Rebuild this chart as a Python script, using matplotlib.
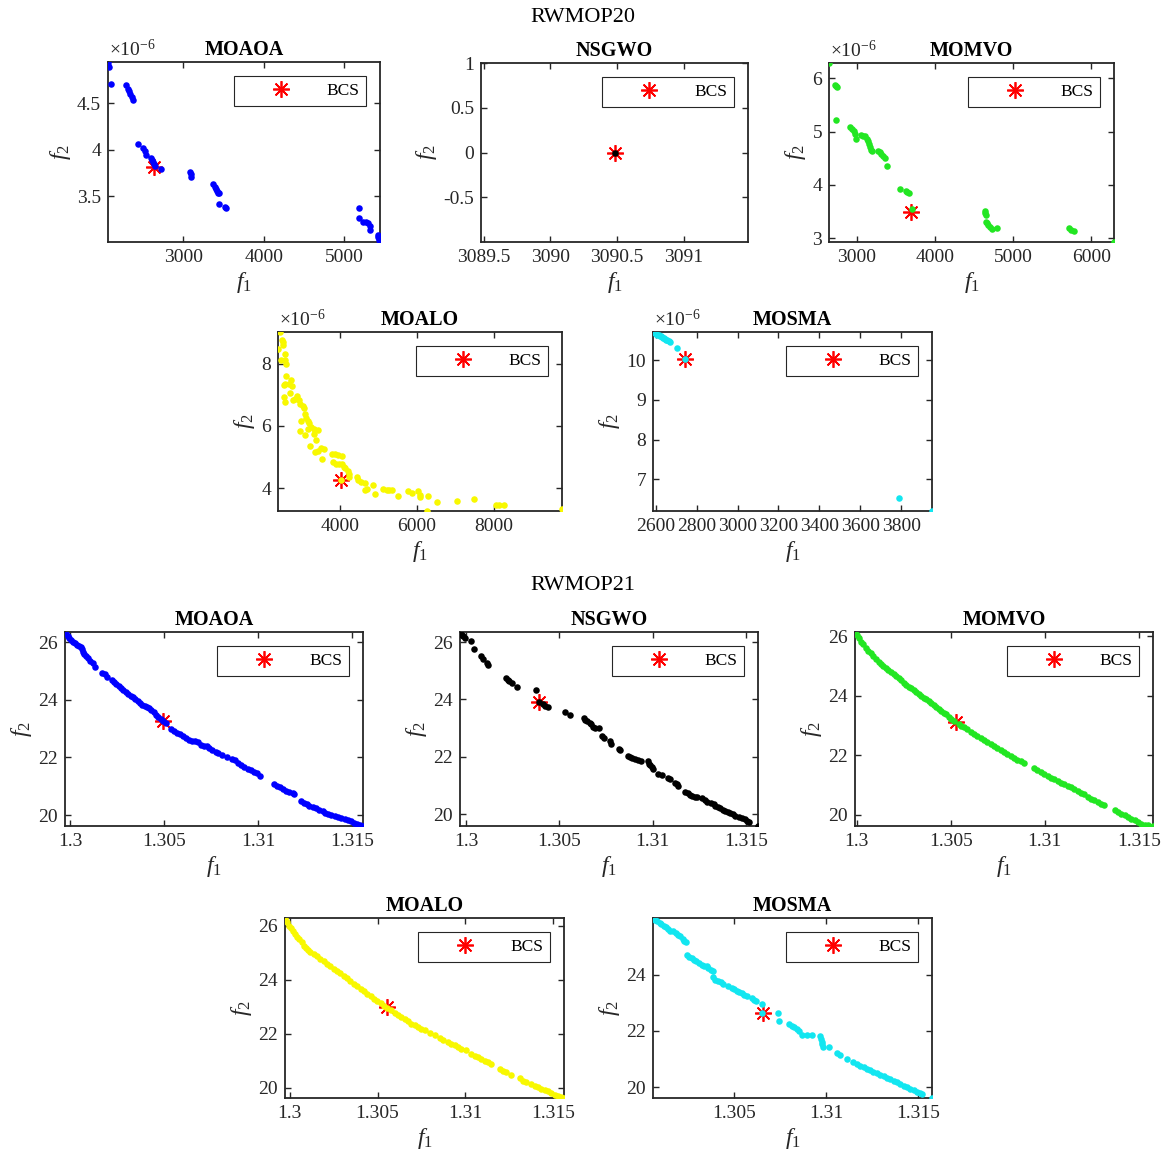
import numpy as np
import matplotlib
matplotlib.use("Agg")
import matplotlib.pyplot as plt
from matplotlib.ticker import FuncFormatter

plt.rcParams["font.family"] = "Liberation Serif"
plt.rcParams["mathtext.fontset"] = "custom"
plt.rcParams["mathtext.rm"] = "Liberation Serif"
plt.rcParams["mathtext.it"] = "Liberation Serif:italic"
plt.rcParams["mathtext.bf"] = "Liberation Serif:bold"

# ---------------- RWMOP20 (f2 given in units of 1e-6) ----------------
moaoa20_f1 = [2066, 2066, 2083, 2108, 2295, 2311, 2324, 2345, 2360, 2373,
              2440, 2502, 2523, 2544, 2606, 2615, 2625, 2635, 2647, 2730,
              3083, 3092, 3100, 3374, 3390, 3405, 3420, 3435, 3448, 3444,
              3515, 3527, 5179, 5187, 5237, 5270, 5300, 5324, 5324, 5415,
              5425, 5435, 5444]
moaoa20_f2 = [4.944, 4.915, 4.89, 4.71, 4.70, 4.656, 4.63, 4.60, 4.57, 4.536,
              4.06, 4.02, 3.99, 3.94, 3.915, 3.89, 3.87, 3.85, 3.825, 3.79,
              3.76, 3.735, 3.71, 3.63, 3.60, 3.575, 3.55, 3.535, 3.535, 3.41,
              3.387, 3.37, 3.37, 3.265, 3.22, 3.22, 3.21, 3.18, 3.13, 3.08,
              3.055, 3.03, 3.006]
moaoa20_bcs = (2643, 3.815)

nsgwo20_f1 = [3090.48]
nsgwo20_f2 = [0.0]
nsgwo20_bcs = (3090.48, 0.0)

momvo20_f1 = [2641, 2722, 2733, 2744, 2735, 2915, 2940, 2957, 2979, 2991,
              3055, 3076, 3098, 3132, 3145, 3158, 3170, 3184, 3192, 3269,
              3290, 3312, 3333, 3354, 3384, 3555, 3623, 3645, 3662, 3700,
              4635, 4645, 4656, 4648, 4660, 4675, 4700, 4730, 4793, 5716,
              5745, 5775, 6292]
momvo20_f2 = [6.29, 5.875, 5.855, 5.84, 5.21, 5.094, 5.05, 5.01, 4.96, 4.86,
              4.93, 4.925, 4.91, 4.86, 4.82, 4.77, 4.72, 4.66, 4.63, 4.63,
              4.61, 4.57, 4.535, 4.50, 4.36, 3.925, 3.875, 3.86, 3.85, 3.54,
              3.50, 3.47, 3.44, 3.31, 3.28, 3.24, 3.21, 3.175, 3.19, 3.19,
              3.155, 3.125, 2.925]
momvo20_bcs = (3690, 3.49)

moalo20_f1 = [2424, 2381, 2485, 2502, 2502, 2554, 2467, 2571, 2589, 2597,
              2528, 2554, 2528, 2554, 2675, 2718, 2744, 2701, 2770, 2831,
              2874, 2918, 2961, 3030, 3065, 3091, 3117, 3151, 2978, 3177,
              2961, 3091, 3160, 3247, 3307, 3411, 3325, 3377, 3221, 3351,
              3411, 3498, 3584, 3524, 3784, 3870, 3931, 4043, 3810, 3896,
              3957, 4043, 4087, 4130, 4191, 4234, 4234, 4010, 4433, 4477,
              4537, 4649, 4649, 4710, 4866, 4909, 5126, 5213, 5282, 5342,
              5515, 5775, 5879, 6018, 6078, 6078, 6295, 6252, 6511, 7048,
              7481, 8070, 8140, 8261, 9776]
moalo20_f2 = [9.02, 8.46, 8.77, 8.70, 8.61, 8.32, 8.11, 8.11, 8.00, 7.62,
              7.30, 7.36, 6.93, 6.77, 7.36, 7.46, 7.27, 7.06, 6.84, 6.87,
              6.95, 6.82, 6.71, 6.63, 6.57, 6.39, 6.26, 6.16, 6.14, 6.09,
              5.83, 5.69, 5.91, 5.96, 5.91, 5.88, 5.75, 5.56, 5.35, 5.16,
              5.19, 5.30, 5.27, 4.94, 5.08, 5.10, 5.05, 5.02, 4.84, 4.78,
              4.76, 4.78, 4.68, 4.65, 4.55, 4.46, 4.35, 4.25, 4.35, 4.27,
              4.19, 4.16, 3.92, 3.98, 4.09, 3.80, 3.98, 3.92, 3.92, 3.92,
              3.74, 3.89, 3.84, 3.89, 3.79, 3.71, 3.74, 3.26, 3.55, 3.57,
              3.66, 3.44, 3.44, 3.44, 3.31]
moalo20_bcs = (4010, 4.25)

mosma20_f1 = [2587, 2592, 2598, 2603, 2608, 2614, 2619, 2624, 2631, 2636,
              2641, 2647, 2652, 2657, 2664, 2669, 2705, 2743, 3790, 3950]
mosma20_f2 = [10.71, 10.70, 10.68, 10.66, 10.645, 10.63, 10.61, 10.60, 10.58, 10.565,
              10.55, 10.53, 10.515, 10.50, 10.48, 10.465, 10.31, 10.02, 6.54, 6.20]
mosma20_bcs = (2742, 10.03)

# ---------------- RWMOP21 ----------------
moaoa21_f1 = [1.29973, 1.29980, 1.29988, 1.29996, 1.30005, 1.30014, 1.30025, 1.30037, 1.30048, 1.30058,
              1.30065, 1.30070, 1.30076, 1.30083, 1.30095, 1.30108, 1.30121, 1.30134, 1.30172, 1.30186,
              1.30196, 1.30222, 1.30235, 1.30245, 1.30258, 1.30270, 1.30283, 1.30296, 1.30310, 1.30322,
              1.30335, 1.30348, 1.30360, 1.30373, 1.30385, 1.30398, 1.30410, 1.30422, 1.30432, 1.30445,
              1.30458, 1.30470, 1.30483, 1.30497, 1.30510, 1.30540, 1.30555, 1.30570, 1.30585, 1.30600,
              1.30615, 1.30632, 1.30648, 1.30665, 1.30680, 1.30695, 1.30712, 1.30727, 1.30742, 1.30758,
              1.30775, 1.30790, 1.30808, 1.30838, 1.30862, 1.30880, 1.30895, 1.30912, 1.30928, 1.30945,
              1.30962, 1.30978, 1.30995, 1.31012, 1.31088, 1.31102, 1.31117, 1.31133, 1.31150, 1.31168,
              1.31185, 1.31192, 1.31228, 1.31245, 1.31262, 1.31275, 1.31292, 1.31310, 1.31328, 1.31345,
              1.31360, 1.31375, 1.31392, 1.31410, 1.31428, 1.31445, 1.31462, 1.31478, 1.31495, 1.31510,
              1.31528, 1.31545, 1.31560]
moaoa21_f2 = [26.35, 26.28, 26.22, 26.14, 26.07, 26.02, 25.96, 25.91, 25.88, 25.84,
              25.76, 25.66, 25.58, 25.52, 25.44, 25.36, 25.28, 25.12, 24.93, 24.88,
              24.80, 24.70, 24.63, 24.54, 24.47, 24.41, 24.34, 24.27, 24.20, 24.13,
              24.08, 24.03, 23.97, 23.90, 23.83, 23.78, 23.74, 23.70, 23.64, 23.56,
              23.48, 23.41, 23.33, 23.26, 23.18, 23.00, 22.93, 22.86, 22.80, 22.74,
              22.68, 22.62, 22.58, 22.57, 22.52, 22.44, 22.40, 22.41, 22.33, 22.27,
              22.20, 22.14, 22.07, 22.02, 21.96, 21.90, 21.82, 21.74, 21.68, 21.60,
              21.55, 21.50, 21.46, 21.37, 21.08, 21.02, 20.96, 20.90, 20.85, 20.80,
              20.76, 20.72, 20.48, 20.43, 20.38, 20.33, 20.28, 20.23, 20.18, 20.13,
              20.08, 20.03, 20.00, 19.96, 19.92, 19.89, 19.85, 19.82, 19.78, 19.74,
              19.70, 19.66, 19.62]
moaoa21_bcs = (1.30496, 23.25)

nsgwo21_f1 = [1.29968, 1.29978, 1.29986, 1.29995, 1.30027, 1.30045, 1.30081, 1.30090, 1.30113, 1.30120,
              1.30215, 1.30224, 1.30233, 1.30246, 1.30272, 1.30373, 1.30389, 1.30412, 1.30425, 1.30439,
              1.30529, 1.30556, 1.30633, 1.30640, 1.30650, 1.30663, 1.30672, 1.30681, 1.30690, 1.30711,
              1.30729, 1.30740, 1.30770, 1.30779, 1.30819, 1.30824, 1.30869, 1.30878, 1.30887, 1.30905,
              1.30919, 1.30937, 1.30977, 1.30982, 1.30986, 1.30995, 1.31004, 1.31030, 1.31048, 1.31084,
              1.31093, 1.31120, 1.31129, 1.31138, 1.31174, 1.31188, 1.31201, 1.31213, 1.31224, 1.31237,
              1.31263, 1.31281, 1.31290, 1.31313, 1.31326, 1.31335, 1.31349, 1.31362, 1.31376, 1.31389,
              1.31403, 1.31416, 1.31428, 1.31443, 1.31460, 1.31478, 1.31493, 1.31505, 1.31514, 1.31564]
nsgwo21_f2 = [26.35, 26.26, 26.20, 26.14, 26.02, 25.77, 25.51, 25.41, 25.27, 25.21,
              24.73, 24.69, 24.63, 24.57, 24.45, 24.32, 23.92, 23.83, 23.77, 23.74,
              23.56, 23.45, 23.36, 23.30, 23.25, 23.19, 23.13, 23.04, 23.01, 23.01,
              22.72, 22.66, 22.54, 22.43, 22.27, 22.23, 22.02, 21.98, 21.96, 21.92,
              21.90, 21.84, 21.84, 21.76, 21.70, 21.64, 21.57, 21.41, 21.37, 21.25,
              21.22, 21.10, 21.04, 20.99, 20.79, 20.73, 20.67, 20.63, 20.61, 20.59,
              20.55, 20.49, 20.43, 20.38, 20.34, 20.29, 20.26, 20.20, 20.16, 20.12,
              20.08, 20.05, 20.00, 19.95, 19.91, 19.87, 19.85, 19.77, 19.73, 19.59]
nsgwo21_bcs = (1.30389, 23.92)

momvo21_f1 = [1.29991, 1.30000, 1.30012, 1.30023, 1.30036, 1.30048, 1.30062, 1.30077, 1.30089, 1.30101,
              1.30116, 1.30130, 1.30142, 1.30155, 1.30169, 1.30183, 1.30196, 1.30208, 1.30223, 1.30237,
              1.30249, 1.30262, 1.30276, 1.30290, 1.30303, 1.30315, 1.30329, 1.30344, 1.30356, 1.30368,
              1.30383, 1.30397, 1.30409, 1.30422, 1.30436, 1.30450, 1.30463, 1.30475, 1.30490, 1.30502,
              1.30516, 1.30543, 1.30557, 1.30570, 1.30587, 1.30605, 1.30623, 1.30641, 1.30659, 1.30676,
              1.30694, 1.30712, 1.30730, 1.30748, 1.30765, 1.30783, 1.30801, 1.30819, 1.30837, 1.30854,
              1.30872, 1.30890, 1.30943, 1.30961, 1.30979, 1.30997, 1.31015, 1.31032, 1.31050, 1.31068,
              1.31086, 1.31104, 1.31121, 1.31139, 1.31157, 1.31175, 1.31193, 1.31210, 1.31228, 1.31246,
              1.31264, 1.31282, 1.31299, 1.31317, 1.31371, 1.31388, 1.31406, 1.31424, 1.31442, 1.31460,
              1.31477, 1.31495, 1.31513, 1.31531, 1.31549, 1.31575]
momvo21_f2 = [26.14, 26.05, 25.93, 25.82, 25.72, 25.60, 25.51, 25.42, 25.32, 25.23,
              25.14, 25.06, 25.01, 24.92, 24.86, 24.78, 24.72, 24.67, 24.59, 24.52,
              24.44, 24.37, 24.30, 24.25, 24.18, 24.12, 24.06, 23.99, 23.93, 23.88,
              23.82, 23.74, 23.67, 23.63, 23.56, 23.48, 23.42, 23.37, 23.29, 23.22,
              23.14, 23.06, 22.99, 22.94, 22.87, 22.79, 22.72, 22.65, 22.58, 22.51,
              22.44, 22.37, 22.30, 22.24, 22.17, 22.10, 22.04, 21.97, 21.91, 21.85,
              21.79, 21.74, 21.56, 21.50, 21.45, 21.37, 21.30, 21.24, 21.19, 21.13,
              21.07, 21.02, 20.96, 20.92, 20.85, 20.79, 20.73, 20.68, 20.60, 20.54,
              20.49, 20.43, 20.37, 20.34, 20.15, 20.09, 20.03, 19.98, 19.92, 19.86,
              19.81, 19.75, 19.69, 19.67, 19.64, 19.62]
momvo21_bcs = (1.30530, 23.12)

moalo21_f1 = [1.29973, 1.29985, 1.29998, 1.30008, 1.30017, 1.30030, 1.30042, 1.30055, 1.30068, 1.30084,
              1.30093, 1.30103, 1.30118, 1.30137, 1.30156, 1.30175, 1.30194, 1.30213, 1.30232, 1.30251,
              1.30270, 1.30289, 1.30308, 1.30327, 1.30346, 1.30365, 1.30384, 1.30403, 1.30422, 1.30441,
              1.30460, 1.30479, 1.30498, 1.30517, 1.30536, 1.30555, 1.30578, 1.30597, 1.30616, 1.30635,
              1.30654, 1.30673, 1.30692, 1.30711, 1.30730, 1.30749, 1.30768, 1.30796, 1.30825, 1.30853,
              1.30872, 1.30901, 1.30920, 1.30939, 1.30958, 1.30977, 1.31005, 1.31034, 1.31053, 1.31072,
              1.31091, 1.31110, 1.31129, 1.31148, 1.31195, 1.31214, 1.31233, 1.31258, 1.31309, 1.31328,
              1.31347, 1.31372, 1.31395, 1.31414, 1.31433, 1.31452, 1.31471, 1.31490, 1.31509, 1.31528,
              1.31547, 1.31562]
moalo21_f2 = [26.28, 26.12, 26.00, 25.90, 25.81, 25.69, 25.59, 25.51, 25.38, 25.26,
              25.17, 25.10, 25.01, 24.95, 24.89, 24.76, 24.68, 24.58, 24.52, 24.39,
              24.31, 24.23, 24.14, 24.06, 23.96, 23.86, 23.77, 23.67, 23.59, 23.49,
              23.40, 23.30, 23.22, 23.13, 23.03, 22.97, 22.88, 22.78, 22.70, 22.62,
              22.54, 22.47, 22.38, 22.31, 22.25, 22.19, 22.13, 22.04, 21.96, 21.86,
              21.79, 21.71, 21.63, 21.57, 21.51, 21.45, 21.39, 21.26, 21.20, 21.14,
              21.08, 21.01, 20.95, 20.90, 20.71, 20.64, 20.58, 20.47, 20.37, 20.27,
              20.21, 20.15, 20.09, 20.04, 19.98, 19.91, 19.88, 19.81, 19.75, 19.69,
              19.65, 19.63]
moalo21_bcs = (1.30553, 22.98)

mosma21_f1 = [1.30057, 1.30070, 1.30081, 1.30094, 1.30103, 1.30116, 1.30127, 1.30139, 1.30152, 1.30167,
              1.30181, 1.30194, 1.30203, 1.30218, 1.30227, 1.30236, 1.30240, 1.30252, 1.30267, 1.30280,
              1.30294, 1.30309, 1.30322, 1.30334, 1.30349, 1.30358, 1.30371, 1.30382, 1.30382, 1.30394,
              1.30409, 1.30427, 1.30436, 1.30467, 1.30485, 1.30498, 1.30513, 1.30527, 1.30540, 1.30553,
              1.30567, 1.30595, 1.30607, 1.30617, 1.30649, 1.30653, 1.30740, 1.30746, 1.30800, 1.30813,
              1.30826, 1.30841, 1.30853, 1.30868, 1.30895, 1.30922, 1.30968, 1.30972, 1.30977, 1.30981,
              1.30986, 1.31014, 1.31059, 1.31074, 1.31114, 1.31150, 1.31168, 1.31187, 1.31205, 1.31223,
              1.31241, 1.31259, 1.31278, 1.31296, 1.31314, 1.31332, 1.31350, 1.31369, 1.31387, 1.31405,
              1.31423, 1.31441, 1.31460, 1.31478, 1.31496, 1.31511, 1.31523, 1.31578]
mosma21_f2 = [26.01, 25.95, 25.89, 25.83, 25.80, 25.72, 25.68, 25.62, 25.56, 25.54,
              25.48, 25.42, 25.36, 25.28, 25.21, 25.16, 24.69, 24.63, 24.59, 24.53,
              24.47, 24.41, 24.35, 24.32, 24.30, 24.24, 24.18, 24.14, 23.91, 23.82,
              23.76, 23.73, 23.68, 23.59, 23.53, 23.49, 23.43, 23.38, 23.33, 23.29,
              23.23, 23.17, 23.11, 23.05, 22.94, 22.64, 22.64, 22.34, 22.23, 22.19,
              22.13, 22.08, 21.99, 21.85, 21.85, 21.85, 21.81, 21.73, 21.61, 21.52,
              21.43, 21.42, 21.22, 21.16, 21.01, 20.89, 20.83, 20.77, 20.72, 20.66,
              20.62, 20.56, 20.50, 20.45, 20.39, 20.33, 20.29, 20.23, 20.18, 20.12,
              20.06, 20.01, 19.95, 19.89, 19.84, 19.80, 19.76, 19.62]
mosma21_bcs = (1.30657, 22.64)

W, H = 1164, 1153
fig = plt.figure(figsize=(W / 100, H / 100), dpi=100)
AXC = "#262626"
ASTERISK = (8, 2, 0)


def rect(l, t, r, b):
    return [l / W, 1 - b / H, (r - l) / W, (b - t) / H]


def panel(box, title, f1, f2, color, bcs, xticks, yticks, micro=False,
          xlim=None, ylim=None):
    ax = fig.add_axes(rect(*box))
    scale = 1e-6 if micro else 1.0
    y = np.asarray(f2) * scale
    by = bcs[1] * scale
    ax.plot([bcs[0]], [by], ls="none", marker=ASTERISK, ms=12, mew=1.25,
            color="red", label="BCS", zorder=2)
    ax.plot(f1, y, ls="none", marker="o", ms=4.7, mew=0, color=color, zorder=3)

    if xlim is None:
        xs = list(f1) + [bcs[0]]
        xlim = (min(xs), max(xs))
    if ylim is None:
        ys = list(y) + [by]
        ylim = (min(ys), max(ys))
    else:
        ylim = (ylim[0] * scale, ylim[1] * scale)
    ax.set_xlim(*xlim)
    ax.set_ylim(*ylim)
    ax.set_xticks(xticks)
    ax.set_yticks(np.asarray(yticks) * scale)
    ax.xaxis.set_major_formatter(FuncFormatter(lambda v, p: "%g" % round(v, 6)))
    ax.yaxis.set_major_formatter(
        FuncFormatter(lambda v, p: "%g" % round(v / scale, 6)))

    ax.tick_params(direction="in", top=True, right=True, length=4.5, width=1,
                   color=AXC, labelcolor=AXC, labelsize=14, pad=5)
    for s in ax.spines.values():
        s.set_linewidth(1.3)
        s.set_color(AXC)

    ax.set_title(title, fontsize=14.5, fontweight="bold", pad=5)
    ax.set_xlabel(r"$f_1$", fontsize=17, color=AXC, labelpad=3)
    ax.set_ylabel(r"$f_2$", fontsize=17, color=AXC, labelpad=3)
    if micro:
        ax.text(0.005, 1.01, r"$\times10^{-6}$", transform=ax.transAxes,
                ha="left", va="bottom", fontsize=14, color=AXC)

    leg = ax.legend(loc="upper right", handlelength=4.6, handletextpad=0.3,
                    borderpad=0.4, borderaxespad=0.8, fancybox=False,
                    framealpha=1, edgecolor=AXC, fontsize=12.5, numpoints=1)
    leg.get_frame().set_linewidth(0.8)
    return ax


x21 = [1.3, 1.305, 1.31, 1.315]
y21 = [20, 22, 24, 26]

panel((108, 62, 380, 242), "MOAOA", moaoa20_f1, moaoa20_f2, "blue",
      moaoa20_bcs, [3000, 4000, 5000], [3.5, 4, 4.5], micro=True)
panel((481, 63, 748, 242), "NSGWO", nsgwo20_f1, nsgwo20_f2, "black",
      nsgwo20_bcs, [3089.5, 3090, 3090.5, 3091], [-0.5, 0, 0.5, 1],
      xlim=(nsgwo20_f1[0] - 1, nsgwo20_f1[0] + 1), ylim=(-1, 1))
panel((829, 63, 1114, 242), "MOMVO", momvo20_f1, momvo20_f2, "#22e622",
      momvo20_bcs, [3000, 4000, 5000, 6000], [3, 4, 5, 6], micro=True)
panel((278, 332, 562, 511), "MOALO", moalo20_f1, moalo20_f2, "#f8f800",
      moalo20_bcs, [4000, 6000, 8000], [4, 6, 8], micro=True)
panel((653, 332, 932, 511), "MOSMA", mosma20_f1, mosma20_f2, "#12e6f0",
      mosma20_bcs, [2600, 2800, 3000, 3200, 3400, 3600, 3800], [7, 8, 9, 10],
      micro=True)

panel((65, 632, 363, 826), "MOAOA", moaoa21_f1, moaoa21_f2, "blue",
      moaoa21_bcs, x21, y21)
panel((460, 632, 758, 826), "NSGWO", nsgwo21_f1, nsgwo21_f2, "black",
      nsgwo21_bcs, x21, y21)
panel((855, 632, 1153, 826), "MOMVO", momvo21_f1, momvo21_f2, "#22e622",
      momvo21_bcs, x21, y21)
panel((285, 918, 564, 1098), "MOALO", moalo21_f1, moalo21_f2, "#f8f800",
      moalo21_bcs, x21, y21)
panel((653, 918, 932, 1098), "MOSMA", mosma21_f1, mosma21_f2, "#12e6f0",
      mosma21_bcs, [1.305, 1.31, 1.315], [20, 22, 24])

fig.text(583 / W, 1 - 17 / H, "RWMOP20", ha="center", va="center", fontsize=16)
fig.text(583 / W, 1 - 586 / H, "RWMOP21", ha="center", va="center", fontsize=16)

fig.savefig("out.png", dpi=100)
